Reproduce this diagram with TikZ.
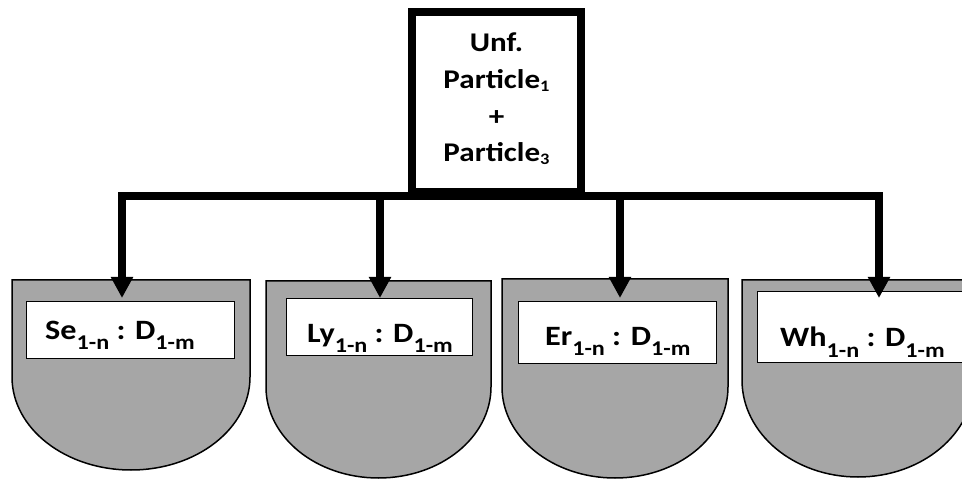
\documentclass[tikz,border=0pt]{standalone}
\usepackage{fontspec}
\usepackage{graphicx}
\setmainfont{Carlito}
\usetikzlibrary{arrows.meta}
\definecolor{cupgray}{HTML}{A6A6A6}
% lowered index in the bin labels and in the source box
\newcommand\lowsub[1]{\raisebox{-10pt}{\fontsize{21}{21}\selectfont #1}}
\newcommand\topsub[1]{\raisebox{-3pt}{\fontsize{16}{16}\selectfont #1}}
% slightly widened lettering
\newcommand\wide[1]{\scalebox{1.15}[1]{#1}}
\begin{document}
\begin{tikzpicture}[x=1pt,y=-1pt,line join=miter,
  srcbox/.style={draw,line width=8pt,fill=white,minimum width=169pt,minimum height=180pt,
    inner sep=0pt,align=center,font=\fontsize{27}{36.7}\selectfont\bfseries},
  cup/.style={draw,line width=1.5pt,fill=cupgray},
  slot/.style={draw,line width=1pt,fill=white,inner sep=0pt},
  tag/.style={anchor=base west,inner sep=0pt,font=\fontsize{28}{28}\selectfont\bfseries},
  feed/.style={line width=8pt,-{Triangle[length=21pt,width=21pt]}}]
\useasboundingbox (0,0) rectangle (962,481);
\clip (0,0) rectangle (962,481);

% bins: straight sides with a rounded bottom
\draw[cup] (12,280) -- (250,280) -- (250,377) arc[start angle=0,end angle=180,x radius=119,y radius=93] -- cycle;
\draw[cup] (266,281) -- (491,281) -- (491,387) arc[start angle=0,end angle=180,x radius=112.5,y radius=91] -- cycle;
\draw[cup] (502,279) -- (728,279) -- (728,387) arc[start angle=0,end angle=180,x radius=113,y radius=91] -- cycle;
\draw[cup] (742,280) -- (974,280) -- (974,380) arc[start angle=0,end angle=180,x radius=116,y radius=97] -- cycle;

% label slots
\node[slot,minimum width=208pt,minimum height=56pt] (se) at (130,330) {};
\node[slot,minimum width=186pt,minimum height=56pt] (ly) at (379,327) {};
\node[slot,minimum width=198pt,minimum height=61pt] (er) at (617,332.5) {};
\node[slot,minimum width=228pt,minimum height=70pt] (wh) at (871,327) {};

\node[tag] (set) at (45,339) {\wide{Se\lowsub{1-n} : D\lowsub{1-m}}};
\node[tag] (lyt) at (307,342) {\wide{Ly\lowsub{1-n} : D\lowsub{1-m}}};
\node[tag] (ert) at (545,345) {\wide{Er\lowsub{1-n} : D\lowsub{1-m}}};
\node[tag] (wht) at (780,347) {\wide{Wh\lowsub{1-n} : D\lowsub{1-m}}};

% arrow ends inside the bins
\coordinate (a1) at (122,298);
\coordinate (a2) at (380,298);
\coordinate (a3) at (620,298);
\coordinate (a4) at (879,298);

\node[srcbox] (src) at (496.5,102)
  {\wide{Unf.}\\\wide{Particle\topsub{1}}\\\wide{+}\\\wide{Particle\topsub{3}\rule[-9pt]{0pt}{0pt}}};
\draw[feed] (src.south) -| (a1);
\draw[feed] (src.south) -| (a2);
\draw[feed] (src.south) -| (a3);
\draw[feed] (src.south) -| (a4);
\end{tikzpicture}
\end{document}
